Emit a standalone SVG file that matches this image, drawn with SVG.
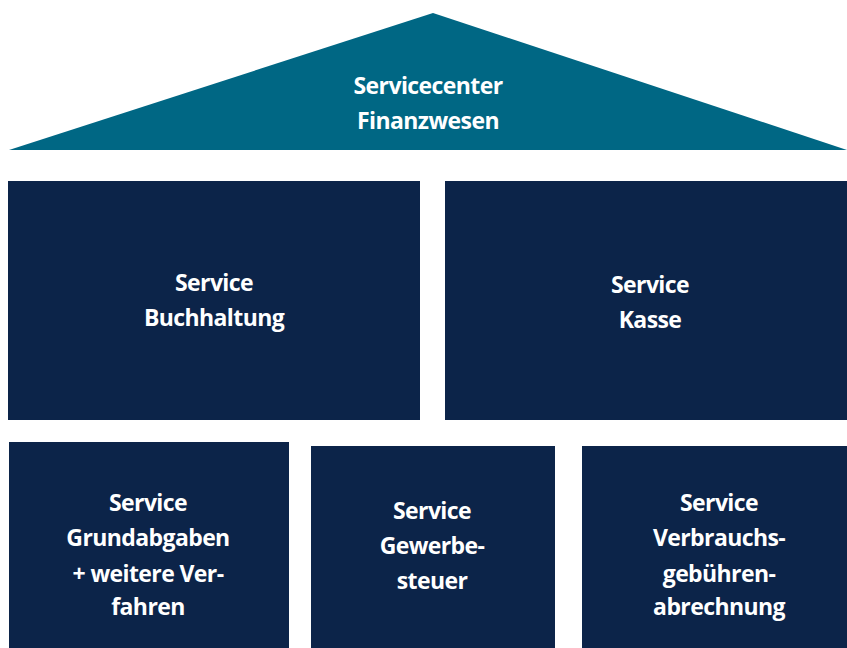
<svg xmlns="http://www.w3.org/2000/svg" width="847" height="648" viewBox="0 0 847 648">
<style>
.roof{fill:#006784}
.box{fill:#0c2449}
.t{font-family:"Open Sans","Noto Sans",sans-serif;font-weight:700;font-size:23px;letter-spacing:-0.6px;fill:#ffffff;text-anchor:middle}
</style>
<rect width="847" height="648" fill="#ffffff"/>
<g id="servicecenter">
<polygon class="roof" points="433,13 847,150 9,150"/>
<text class="t" x="428" y="94">Servicecenter</text>
<text class="t" x="428" y="129">Finanzwesen</text>
</g>
<g id="buchhaltung">
<rect class="box" x="8" y="181" width="412" height="239"/>
<text class="t" x="214" y="291">Service</text>
<text class="t" x="214" y="326">Buchhaltung</text>
</g>
<g id="kasse">
<rect class="box" x="445" y="181" width="402" height="239"/>
<text class="t" x="650" y="293">Service</text>
<text class="t" x="650" y="328">Kasse</text>
</g>
<g id="grundabgaben">
<rect class="box" x="9" y="442" width="280" height="206"/>
<text class="t" x="148" y="511">Service</text>
<text class="t" x="148" y="546">Grundabgaben</text>
<text class="t" x="148" y="582">+ weitere Ver-</text>
<text class="t" x="148" y="615">fahren</text>
</g>
<g id="gewerbesteuer">
<rect class="box" x="311" y="446" width="244" height="202"/>
<text class="t" x="432" y="519">Service</text>
<text class="t" x="432" y="554">Gewerbe-</text>
<text class="t" x="432" y="589">steuer</text>
</g>
<g id="verbrauchsgebuehren">
<rect class="box" x="582" y="446" width="265" height="202"/>
<text class="t" x="719" y="511">Service</text>
<text class="t" x="719" y="546">Verbrauchs-</text>
<text class="t" x="719" y="582">gebühren-</text>
<text class="t" x="719" y="615">abrechnung</text>
</g>
<g id="connectors"/>
</svg>
